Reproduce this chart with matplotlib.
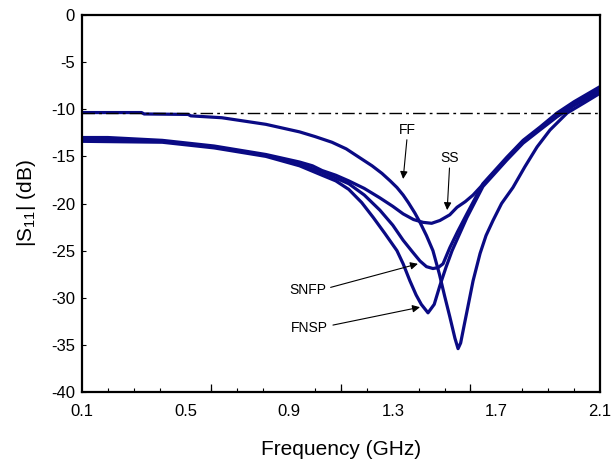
import matplotlib
matplotlib.use("Agg")
import matplotlib.pyplot as plt

plt.rcParams['font.family'] = ['Liberation Sans', 'DejaVu Sans']
plt.rcParams['mathtext.fontset'] = 'custom'
plt.rcParams['mathtext.rm'] = 'Liberation Sans'
plt.rcParams['mathtext.it'] = 'Liberation Sans'

# |S11| en dB, frequences en GHz
ff_freq = [0.10, 0.33, 0.34, 0.51, 0.52, 0.64, 0.81, 0.94, 1.00, 1.065, 1.12, 1.17, 1.22,
           1.258, 1.29, 1.316, 1.34, 1.36, 1.385, 1.405, 1.43, 1.455, 1.48, 1.50, 1.52,
           1.54, 1.552, 1.562, 1.575, 1.586, 1.61, 1.637, 1.66, 1.687, 1.72, 1.764, 1.81,
           1.857, 1.907, 1.973, 2.04, 2.10]
ff_s11 = [-10.35, -10.35, -10.5, -10.55, -10.7, -10.9, -11.6, -12.4, -12.9, -13.5, -14.2,
          -15.1, -16.0, -16.8, -17.6, -18.3, -19.1, -19.9, -21.0, -22.0, -23.4, -25.0, -27.5,
          -29.8, -32.0, -34.3, -35.4, -34.8, -33.0, -31.5, -28.2, -25.3, -23.4, -21.8, -20.0,
          -18.3, -16.1, -14.0, -12.2, -10.4, -9.3, -8.3]

ss_freq = [0.10, 0.20, 0.41, 0.61, 0.81, 0.94, 0.99, 1.027, 1.08, 1.13, 1.19, 1.25, 1.30,
           1.34, 1.38, 1.417, 1.45, 1.482, 1.52, 1.548, 1.58, 1.61, 1.664, 1.74, 1.803,
           1.868, 1.934, 2.00, 2.10]
ss_s11 = [-13.0, -13.0, -13.3, -13.9, -14.8, -15.6, -16.0, -16.5, -17.0, -17.6, -18.4, -19.4,
          -20.3, -21.1, -21.7, -22.0, -22.1, -21.8, -21.2, -20.4, -19.8, -19.1, -17.5, -15.3,
          -13.4, -12.0, -10.6, -9.4, -7.8]

snfp_freq = [0.10, 0.41, 0.61, 0.81, 0.94, 1.027, 1.08, 1.13, 1.19, 1.25, 1.30, 1.34, 1.375,
             1.405, 1.43, 1.455, 1.475, 1.494, 1.52, 1.55, 1.586, 1.648, 1.74, 1.803, 1.868,
             1.934, 2.00, 2.10]
snfp_s11 = [-13.2, -13.4, -14.0, -14.9, -15.8, -16.7, -17.3, -17.9, -19.1, -20.7, -22.3, -23.9,
            -25.1, -26.1, -26.7, -26.9, -26.8, -26.4, -24.7, -23.0, -21.1, -17.9, -15.1, -13.3,
            -11.9, -10.4, -9.2, -7.6]

fnsp_freq = [0.10, 0.41, 0.61, 0.81, 0.94, 1.027, 1.08, 1.13, 1.18, 1.225, 1.27, 1.316, 1.34,
             1.366, 1.39, 1.41, 1.436, 1.46, 1.482, 1.505, 1.529, 1.586, 1.648, 1.74, 1.803,
             1.868, 1.934, 2.00, 2.10]
fnsp_s11 = [-13.4, -13.5, -14.1, -15.0, -16.0, -17.0, -17.6, -18.5, -19.9, -21.5, -23.2, -25.0,
            -26.4, -28.2, -29.7, -30.7, -31.6, -30.7, -28.7, -26.8, -25.0, -21.5, -18.2, -15.4,
            -13.6, -12.2, -10.8, -9.6, -8.1]

seuil_db = -10.35
x_labels = [0.1, 0.5, 0.9, 1.3, 1.7, 2.1]
y_labels = [0, -5, -10, -15, -20, -25, -30, -35, -40]

navy = '#0a0a84'

fig = plt.figure(figsize=(6.15, 4.66), dpi=100)
ax = fig.add_axes([0.1333, 0.1588, 0.8423, 0.809])

for f, s in [(ff_freq, ff_s11), (ss_freq, ss_s11), (snfp_freq, snfp_s11), (fnsp_freq, fnsp_s11)]:
    ax.plot(f, s, color=navy, lw=2.3, solid_joinstyle='round', solid_capstyle='round')

ax.axhline(seuil_db, color='black', lw=1.0, dashes=(9, 3, 2, 3))

ax.set_xlim(0.1, 2.1)
ax.set_ylim(-40, 0)
ax.set_xticks(x_labels)
ax.set_xticklabels([f"{v:.1f}" for v in x_labels])
ax.set_xticks([0.1 + 0.1 * i for i in range(21)], minor=True)
ax.set_yticks(y_labels)
ax.set_yticklabels([str(v) for v in y_labels])
ax.tick_params(axis='both', which='both', direction='in', length=3, width=0.8,
               labelsize=12, pad=5)
ax.tick_params(axis='x', which='major', length=0, pad=9)
ax.tick_params(top=False, right=False)

# petits traits plus longs a 0.6, 1.1, 1.6
sec = ax.secondary_xaxis('bottom')
sec.set_xticks([0.6, 1.1, 1.6])
sec.tick_params(direction='in', length=6, width=0.9, labelbottom=False)
sec.spines['bottom'].set_visible(False)

for sp in ax.spines.values():
    sp.set_linewidth(1.6)

ax.set_xlabel('Frequency (GHz)', fontsize=15, labelpad=15)
ax.set_ylabel('|S$_{11}$| (dB)', fontsize=15, labelpad=9)

arrow = dict(arrowstyle='-|>', color='black', lw=0.8, mutation_scale=11,
             shrinkA=0, shrinkB=0)
ax.annotate('FF', xy=(1.34, -17.4), xytext=(1.358, -12.2), ha='center', va='center',
            fontsize=10, arrowprops=arrow)
ax.annotate('SS', xy=(1.51, -20.7), xytext=(1.521, -15.2), ha='center', va='center',
            fontsize=10, arrowprops=arrow)
ax.annotate('', xy=(1.397, -26.4), xytext=(1.06, -28.9), arrowprops=arrow)
ax.text(0.973, -29.2, 'SNFP', ha='center', va='center', fontsize=10)
ax.annotate('', xy=(1.405, -31.0), xytext=(1.069, -32.9), arrowprops=arrow)
ax.text(0.977, -33.2, 'FNSP', ha='center', va='center', fontsize=10)

fig.savefig('out.png', dpi=100)
